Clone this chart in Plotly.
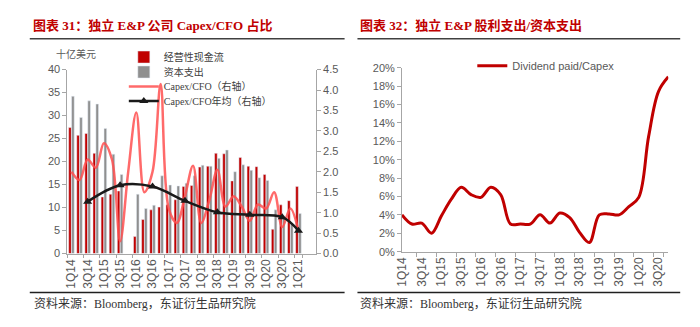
import plotly.graph_objects as go

# ---------------- data ----------------
quarters = [f"{q}Q{y}" for y in range(14, 21) for q in range(1, 5)] + ["1Q21"]

# 十亿美元
cfo = [27.4, 25.7, 26.1, 21.8, 12.3, 12.9, 13.6, None, 3.7, 7.4,
       9.5, 10.1, 10.6, 11.7, 14.6, 14.8, 18.8, 19.0, 21.8, 21.7,
       15.8, 20.9, 19.0, 18.9, 17.2, 5.3, 10.6, 11.5, 14.6]
capex = [34.2, 29.6, 33.2, 32.5, 27.2, 21.6, 17.2, None, 12.9, 9.8,
         10.5, 16.9, 14.9, 14.7, 15.3, 16.9, 19.2, 19.0, 20.7, 22.5,
         17.8, 19.3, 18.1, 16.5, 15.9, 9.5, 7.8, 6.4, 8.7]
capex_cfo = [2.0, 1.8, 2.3, 2.1, 2.7, 2.3, 0.3, 2.0, 3.45, 1.5,
             2.0, 4.15, 1.1, 0.75, 1.4, 2.15, 0.75, 1.3, 2.05, 1.15,
             1.4, 1.15, 0.8, 1.2, 1.1, 1.5, 0.65, 1.1, 0.55]
avg_quarters = ["3Q14", "3Q15", "3Q16", "3Q17", "3Q18", "3Q19", "3Q20", "1Q21"]
avg_capex_cfo = [1.27, 1.67, 1.64, 1.29, 1.01, 0.95, 0.89, 0.56]

div_quarters = quarters[:28]
div_capex = [4.0, 3.0, 3.1, 2.0, 3.9, 5.7, 7.0, 6.2, 5.9, 7.0,
             6.2, 3.0, 3.0, 3.0, 4.0, 3.1, 4.2, 3.7, 2.1, 1.0,
             4.0, 4.1, 4.0, 4.9, 5.9, 12.5, 17.4, 19.0]

left_ticks = [q for i, q in enumerate(quarters) if i % 2 == 0]
right_ticks = [q for i, q in enumerate(div_quarters) if i % 2 == 0]

# ---------------- styling ----------------
W, H = 700, 327
RED = "#C00000"
GRAY_TXT = "#595959"
AXIS = "#A6A6A6"
SANS = "Liberation Sans, Arial, Noto Sans CJK SC"
SERIF = "Liberation Serif, Noto Sans CJK SC"


def px(x):
    return x / W


def py(y):
    return 1 - y / H


fig = go.Figure()

# left chart: bars + ratio lines, one legend box per entry
fig.add_bar(x=quarters, y=cfo, name="经营性现金流", marker_color=RED,
            xaxis="x", yaxis="y", legend="legend")
fig.add_bar(x=quarters, y=capex, name="资本支出", marker_color="#8F8F8F",
            xaxis="x", yaxis="y", legend="legend2")
fig.add_scatter(x=quarters, y=capex_cfo, name="Capex/CFO（右轴）", mode="lines",
                line=dict(color="rgba(255,80,80,0.85)", width=2.5, shape="spline"),
                xaxis="x", yaxis="y2", legend="legend3")
fig.add_scatter(x=avg_quarters, y=avg_capex_cfo, name="Capex/CFO年均（右轴）",
                mode="lines+markers",
                line=dict(color="#1A1A1A", width=2.5, shape="spline"),
                marker=dict(symbol="triangle-up", size=8, color="#1A1A1A"),
                xaxis="x", yaxis="y2", legend="legend4")

# right chart: dividend / capex
fig.add_scatter(x=div_quarters, y=div_capex, name="Dividend paid/Capex", mode="lines",
                line=dict(color=RED, width=3, shape="spline"),
                xaxis="x2", yaxis="y3", legend="legend5")

tick_font = dict(family=SANS, size=11, color=GRAY_TXT)
xtick_font = dict(family=SANS, size=12, color=GRAY_TXT)

legend_font = dict(family=SERIF, size=10, color="#404040")
legend_common = dict(xanchor="left", yanchor="middle", bgcolor="rgba(0,0,0,0)",
                     font=legend_font, itemwidth=30)

fig.update_layout(
    width=W, height=H,
    margin=dict(l=0, r=0, t=0, b=0),
    paper_bgcolor="white", plot_bgcolor="white",
    barmode="group", bargap=0.28, bargroupgap=0.1,
    xaxis=dict(domain=[px(61), px(312)], anchor="y", type="category",
               categoryorder="array", categoryarray=quarters,
               tickvals=left_ticks, ticktext=left_ticks, tickangle=-90,
               tickfont=xtick_font, showline=True, linecolor=AXIS, linewidth=1,
               ticks="outside", ticklen=3, tickcolor=AXIS, tickson="boundaries",
               showgrid=False, zeroline=False),
    yaxis=dict(domain=[py(257), py(66)], anchor="x", range=[0, 40], dtick=5,
               tickfont=tick_font, showline=True, linecolor=AXIS, linewidth=1,
               ticks="outside", ticklen=4, tickcolor=AXIS,
               showgrid=False, zeroline=False),
    yaxis2=dict(overlaying="y", side="right", anchor="x", range=[0, 4.5], dtick=0.5,
                tickformat=".1f", tickfont=tick_font, showline=True, linecolor=AXIS,
                linewidth=1, ticks="outside", ticklen=4, tickcolor=AXIS,
                showgrid=False, zeroline=False),
    xaxis2=dict(domain=[px(399), px(668)], anchor="y3", type="category",
                categoryorder="array", categoryarray=div_quarters,
                tickvals=right_ticks, ticktext=right_ticks, tickangle=-90,
                tickfont=xtick_font, showline=True, linecolor=AXIS, linewidth=1,
                ticks="outside", ticklen=4, tickcolor=AXIS, tickson="boundaries",
                showgrid=False, zeroline=False),
    yaxis3=dict(domain=[py(255), py(64)], anchor="x2", range=[0, 20], dtick=2,
                ticksuffix="%", tickfont=tick_font, showline=True, linecolor=AXIS,
                linewidth=1, ticks="outside", ticklen=4, tickcolor=AXIS,
                showgrid=False, zeroline=False),
    legend=dict(x=px(118), y=py(53), **legend_common),
    legend2=dict(x=px(118), y=py(68.5), **legend_common),
    legend3=dict(x=px(118), y=py(83.5), **legend_common),
    legend4=dict(x=px(118), y=py(98.5), **legend_common),
    legend5=dict(x=px(470), y=py(62), xanchor="left", yanchor="middle",
                 bgcolor="rgba(0,0,0,0)", itemwidth=30,
                 font=dict(family=SANS, size=11, color=GRAY_TXT)),
    showlegend=True,
)

# titles, rules and source notes
annotations = [
    dict(text="<b>图表 31：独立 E&amp;P 公司 Capex/CFO 占比</b>", x=px(24), y=py(20)),
    dict(text="<b>图表 32：独立 E&amp;P 股利支出/资本支出</b>", x=px(355), y=py(20)),
]
for a in annotations:
    a.update(xref="paper", yref="paper", xanchor="left", yanchor="middle",
             showarrow=False, font=dict(family=SERIF, size=13, color=RED))
for x0 in (24, 354):
    annotations.append(dict(text="资料来源：Bloomberg，东证衍生品研究院", x=px(x0 + 1), y=py(309),
                            xref="paper", yref="paper", xanchor="left", yanchor="middle",
                            showarrow=False, font=dict(family=SERIF, size=12, color="#333333")))
annotations.append(dict(text="十亿美元", x=px(47), y=py(50), xref="paper", yref="paper",
                        xanchor="left", yanchor="middle", showarrow=False,
                        font=dict(family=SERIF, size=10, color=GRAY_TXT)))
fig.update_layout(annotations=annotations)

shapes = []
for x0, x1 in ((23, 341), (354, 680)):
    shapes.append(dict(type="line", xref="paper", yref="paper", x0=px(x0), x1=px(x1),
                       y0=py(34), y1=py(34), line=dict(color="#404040", width=1.5)))
    shapes.append(dict(type="line", xref="paper", yref="paper", x0=px(x0), x1=px(x1),
                       y0=py(297.5), y1=py(297.5), line=dict(color="#202020", width=1.5)))
fig.update_layout(shapes=shapes)

fig.write_html("out.html", config={"displayModeBar": False})
